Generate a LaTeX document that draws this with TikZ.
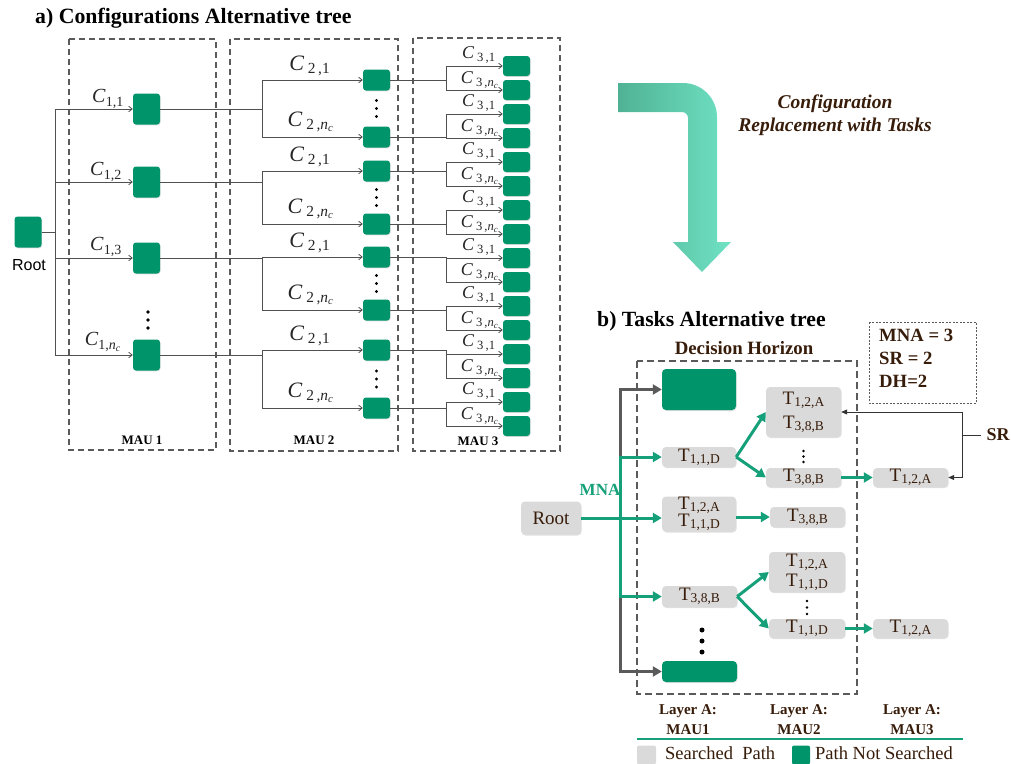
\documentclass[tikz,border=0pt]{standalone}
\usepackage{fontspec}
\setmainfont{Liberation Serif}
\newfontfamily\arialf{Liberation Sans}
\usetikzlibrary{arrows.meta,calc,shadows}
\definecolor{ngreen}{RGB}{0,148,106}
\definecolor{agreen}{RGB}{22,160,122}
\definecolor{ngray}{RGB}{218,218,218}
\definecolor{tbrown}{RGB}{55,28,10}
\definecolor{lgray}{RGB}{80,80,80}
\definecolor{darr}{RGB}{90,90,90}
\definecolor{shadeL}{RGB}{80,178,148}
\definecolor{shadeR}{RGB}{112,226,196}
\newcommand\myfs[1]{\fontsize{#1}{#1}\selectfont}
\newcommand\tsk[1]{T\raisebox{-1.8pt}{\myfs{13.5}#1}}
\newcommand\nc{\textit{n}\textsubscript{\textit{c}}}
\begin{document}
\begin{tikzpicture}[x=1pt,y=-1pt,
 gsq/.style={fill=ngreen,rounded corners=3pt,inner sep=0,minimum width=27pt,drop shadow={shadow xshift=0.6pt,shadow yshift=-0.8pt,opacity=0.25}},
 ln/.style={draw=lgray,line width=0.8pt},
 arr/.style={ln,-{Straight Barb[length=3.5pt,width=5.5pt]}},
 mau/.style={draw=darr,dash pattern=on 6pt off 4pt,line width=1.1pt},
 clab/.style={text=black!85,inner sep=0},
 tn/.style={fill=ngray,rounded corners=4pt,inner sep=0,minimum width=75pt,text=tbrown,font=\myfs{19},align=center,drop shadow={shadow xshift=0.6pt,shadow yshift=-1pt,opacity=0.25}},
 gn/.style={fill=ngreen,rounded corners=4pt,inner sep=0,minimum width=75pt,drop shadow={shadow xshift=0.6pt,shadow yshift=-1pt,opacity=0.25}},
 garr/.style={draw=agreen,line width=3pt,-{Triangle[length=9pt,width=10pt]}},
 gyarr/.style={draw=darr,line width=3pt,-{Triangle[length=9pt,width=10pt]}},
 btext/.style={text=tbrown,font=\bfseries\fontsize{15}{20}\selectfont,align=center,inner sep=0},
 dot/.style={fill=black,circle,inner sep=0,minimum size=#1}
]
\useasboundingbox (0,0) rectangle (1011,763);

% ---------- part a ----------
\node[anchor=west,font=\bfseries\myfs{21.8},inner sep=0] (ta) at (35,18) {a) Configurations Alternative tree};
\draw[mau] (69,39) rectangle (216,450);
\draw[mau] (230,39) rectangle (398,451);
\draw[mau] (413,38) rectangle (560,451);
\node[font=\bfseries\myfs{13}] (m1) at (142,440) {MAU 1};
\node[font=\bfseries\myfs{13}] (m2) at (314,440) {MAU 2};
\node[font=\bfseries\myfs{13}] (m3) at (478,441) {MAU 3};

\node[gsq,minimum height=31pt] (root) at (28,232) {};
\node[font=\arialf\myfs{16},inner sep=0] (rootl) at (29,265) {Root};

\foreach \y [count=\i] in {109,182,258,355}
  \node[gsq,minimum height=31pt] (a\i) at (146.5,\y) {};
\foreach \y [count=\i] in {80,137,171,224,257,310,350,408}
  \node[gsq,minimum height=21pt] (b\i) at (376.5,\y) {};
\foreach \i in {1,...,16}
  \node[gsq,minimum height=20pt] (c\i) at (516.5,{66+24*(\i-1)}) {};

\coordinate (j0) at (55,232);
\draw[ln] (root.east) -- (j0);
\draw[ln] (a1.west -| j0) -- (a4.west -| j0);
\foreach \i in {1,...,4} \draw[arr] (a\i.west -| j0) -- (a\i.west);

\coordinate (j1) at (262,0);
\foreach \i in {1,...,4} {
  \pgfmathtruncatemacro\u{2*\i-1}
  \pgfmathtruncatemacro\d{2*\i}
  \draw[ln] (a\i.east) -- (a\i.east -| j1) -- (b\u.west -| j1);
  \draw[ln] (a\i.east -| j1) -- (b\d.west -| j1);
  \draw[arr] (b\u.west -| j1) -- (b\u.west);
  \draw[arr] (b\d.west -| j1) -- (b\d.west);
}
\coordinate (j2) at (446,0);
\foreach \i in {1,...,8} {
  \pgfmathtruncatemacro\u{2*\i-1}
  \pgfmathtruncatemacro\d{2*\i}
  \draw[ln] (b\i.east) -- (b\i.east -| j2) -- (c\u.west -| j2);
  \draw[ln] (b\i.east -| j2) -- (c\d.west -| j2);
  \draw[arr] (c\u.west -| j2) -- (c\u.west);
  \draw[arr] (c\d.west -| j2) -- (c\d.west);
  \node[clab,font=\myfs{18}] (lc\u) at ($(c\u.west)+(-24,-11)$) {\textit{C}\,\textsubscript{3\,,1}};
  \node[clab,font=\myfs{18}] (lc\d) at ($(c\d.west)+(-23,-10)$) {\textit{C}\,\textsubscript{3\,,\nc}};
}
% C1 labels
\node[clab,font=\myfs{20}] (l11) at (108,99) {\textit{C}\textsubscript{1,1}};
\node[clab,font=\myfs{20}] (l12) at (106,172) {\textit{C}\textsubscript{1,2}};
\node[clab,font=\myfs{20}] (l13) at (106,247) {\textit{C}\textsubscript{1,3}};
\node[clab,font=\myfs{20}] (l14) at (103,342) {\textit{C}\textsubscript{1,\nc}};
% C2 labels
\foreach \i in {1,3,5,7}
  \node[clab,font=\myfs{22}] (lb\i) at ($(b\i.west)+(-53,-14)$) {\textit{C}\,\textsubscript{2\,,1}};
\foreach \i in {2,4,6,8}
  \node[clab,font=\myfs{22}] (lb\i) at ($(b\i.west)+(-52,-15)$) {\textit{C}\,\textsubscript{2\,,\nc}};
% dots
\foreach \y in {312,320,328} \node[dot=3.6pt] at (148,\y) {};
\foreach \i in {1,3,5,7} {
  \pgfmathtruncatemacro\d{\i+1}
  \node[dot=3.2pt] at ($(b\i)!0.5!(b\d)+(0,-8)$) {};
  \node[dot=3.2pt] at ($(b\i)!0.5!(b\d)$) {};
  \node[dot=3.2pt] at ($(b\i)!0.5!(b\d)+(0,8)$) {};
}

% ---------- big arrow ----------
\shade[left color=shadeL,right color=shadeR] (618,83) -- (683,83)
  arc[start angle=-90,end angle=0,radius=34] -- (717,242) -- (731,242) -- (702,272)
  -- (673,242) -- (688,242) -- (688,118) arc[start angle=0,end angle=-90,radius=6]
  -- (618,112) -- cycle;
\node[font=\bfseries\itshape\fontsize{19.5}{23}\selectfont,text=tbrown,align=center] (cfg) at (835,115) {Configuration\\Replacement with Tasks};

% ---------- part b ----------
\node[anchor=west,font=\bfseries\myfs{21.7},inner sep=0] (tb) at (597,321) {b) Tasks Alternative tree};
\node[font=\bfseries\myfs{18.8},text=tbrown,inner sep=0] (dh) at (744,348) {Decision Horizon};
\draw[mau,line width=1.4pt,dash pattern=on 7pt off 4pt] (637,361) rectangle (857,694);
\draw[darr,line width=0.8pt,dash pattern=on 2pt off 1.5pt] (869,322) rectangle (976,403);
\node[anchor=north west,text=tbrown,font=\bfseries\fontsize{18.7}{23}\selectfont,align=left,inner sep=0] (info) at (879,329) {MNA = 3\\SR = 2\\DH=2};

\node[tn,minimum width=60pt,minimum height=33pt] (rootb) at (551,518) {Root};
\node[font=\bfseries\myfs{17},text=agreen,inner sep=0] (mna) at (600,490) {MNA};

\node[gn,minimum width=74pt,minimum height=41pt] (gt) at (699,389.5) {};
\node[tn,minimum width=74pt,minimum height=20pt] (t11) at (699,457) {\tsk{1,1,D}};
\node[tn,minimum width=74pt,minimum height=35pt,font=\fontsize{19}{17}\selectfont] (t12) at (699,514) {\tsk{1,2,A}\\\tsk{1,1,D}};
\node[tn,minimum height=21pt] (t38) at (699.5,596.5) {\tsk{3,8,B}};
\node[gn,minimum height=21pt] (gb) at (699.5,671.5) {};

\node[tn,minimum height=50pt,font=\fontsize{19}{24}\selectfont] (u1) at (803.5,412) {\tsk{1,2,A}\\\tsk{3,8,B}};
\node[tn,minimum height=19pt] (u2) at (803.5,477.5) {\tsk{3,8,B}};
\node[tn,minimum height=20pt] (u3) at (807.5,517) {\tsk{3,8,B}};
\node[tn,minimum width=76pt,minimum height=40pt,font=\fontsize{19}{20}\selectfont] (u4) at (807,572) {\tsk{1,2,A}\\\tsk{1,1,D}};
\node[tn,minimum width=76pt,minimum height=19pt] (u5) at (807,628.5) {\tsk{1,1,D}};
\node[tn,minimum height=19pt] (v1) at (910.5,477.5) {\tsk{1,2,A}};
\node[tn,minimum height=19pt] (v2) at (910.5,628.5) {\tsk{1,2,A}};

\coordinate (tr) at (620,0);
\draw[gyarr] (tr |- gb) -- (tr |- gt) -- (gt.west);
\draw[gyarr] (tr |- gt) -- (tr |- gb) -- (gb.west);
\draw[garr] (tr |- t38) -- (tr |- t11) -- (t11.west);
\draw[garr] (tr |- t11) -- (tr |- t38) -- (t38.west);
\draw[garr] (rootb.east) -- (t12.west |- rootb);
\draw[garr] (t11.east) -- (u1.west);
\draw[garr] (t11.east) -- (u2.west);
\draw[garr] (t12.east |- u3) -- (u3.west);
\draw[garr] (t38.east) -- (u4.west);
\draw[garr] (t38.east) -- (u5.west);
\draw[garr] (u2.east) -- (v1.west);
\draw[garr] (u5.east) -- (v2.west);

\foreach \y in {630,641,652} \node[dot=5pt] at (702,\y) {};
\foreach \y in {451,456.5,462} \node[dot=2.8pt] at (803.5,\y) {};
\foreach \y in {601,607.5,614} \node[dot=2.8pt] at (807,\y) {};

\coordinate (srj) at (962,435);
\coordinate (sre) at (981,435);
\draw[black!80,line width=0.9pt,-{Triangle[length=6pt,width=5pt]}] (srj) |- (u1.east);
\draw[black!80,line width=0.9pt,-{Triangle[length=6pt,width=5pt]}] (srj) |- (v1.east);
\draw[black!80,line width=0.9pt] (srj) -- (sre);
\node[font=\bfseries\myfs{18},text=tbrown,inner sep=0] (srl) at (998,435) {SR};

% legend
\node[btext] (la1) at (688,720) {Layer A:\\MAU1};
\node[btext] (la2) at (799,720) {Layer A:\\MAU2};
\node[btext] (la3) at (912,720) {Layer A:\\MAU3};
\draw[agreen,line width=1.5pt] (637,739) -- (963,739);
\node[fill=ngray,rounded corners=2pt,minimum width=19pt,minimum height=19pt,inner sep=0] (lg1) at (646.5,755) {};
\node[anchor=west,font=\myfs{18.5},text=tbrown,inner sep=0] (lt1) at (665,753) {Searched\ \ Path};
\node[fill=ngreen,rounded corners=2pt,minimum width=18pt,minimum height=19pt,inner sep=0] (lg2) at (801,755) {};
\node[anchor=west,font=\myfs{18.5},text=tbrown,inner sep=0] (lt2) at (815,753) {Path Not Searched};
\end{tikzpicture}
\end{document}
